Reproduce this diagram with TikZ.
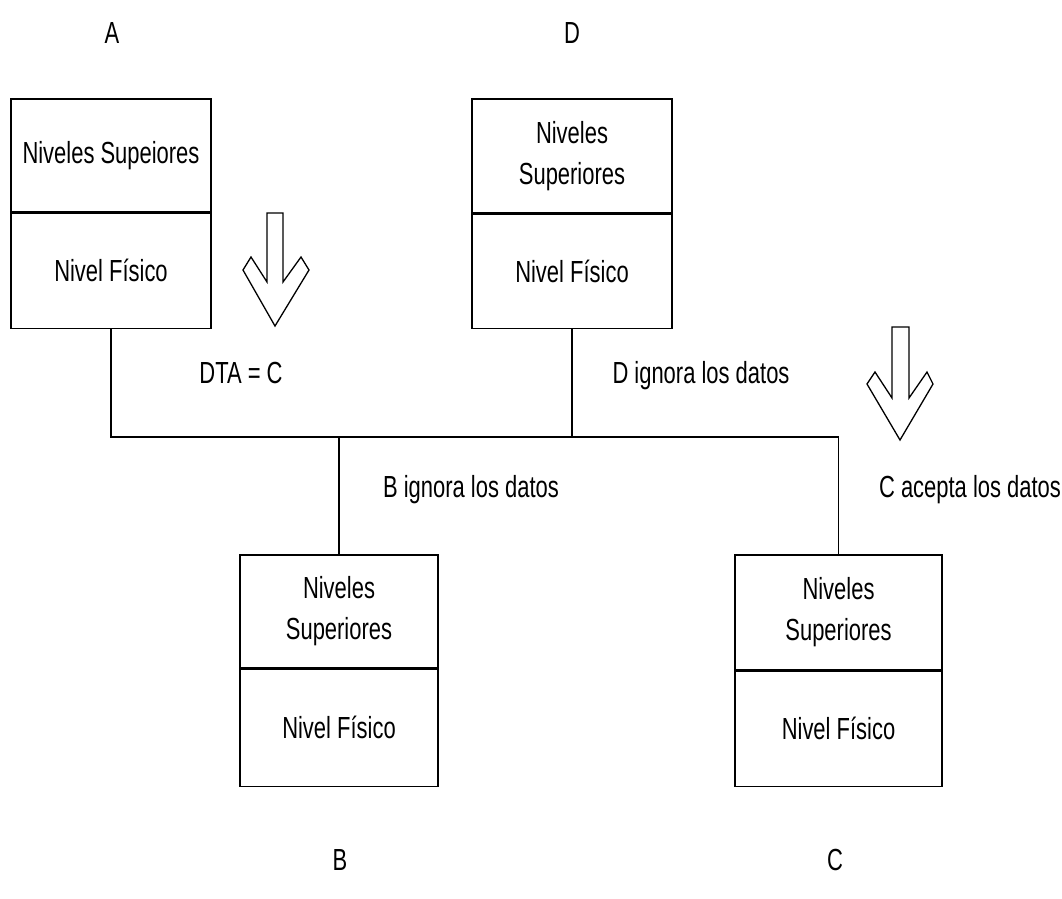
\documentclass[tikz,border=0pt]{standalone}
\usepackage{fontspec}
\setmainfont{Liberation Sans}[FakeStretch=0.72]
\begin{document}
\begin{tikzpicture}[x=1pt,y=-1pt,
  every node/.style={font=\fontsize{30.5}{41}\selectfont, inner sep=0pt},
  layer/.style={draw, line width=1.4pt, minimum width=200pt, align=center},
  wire/.style={line width=1.3pt},
  bigarrow/.style={draw, line width=1.3pt, line join=miter},
  lbl/.style={anchor=base}]
\useasboundingbox (0,0) rectangle (1062,898);

% station labels
\node[lbl] (tA) at (112,43) {A};
\node[lbl] (tD) at (572,43) {D};
\node[lbl] (tB) at (340,870) {B};
\node[lbl] (tC) at (835,870) {C};

% station A
\node[layer, minimum height=113pt] (Aup) at (111,155.5) {Niveles Supeiores};
\node[layer, minimum height=115pt, anchor=north] (Alow) at (Aup.south) {Nivel Físico};
% station D
\node[layer, minimum height=114pt] (Dup) at (572,156) {Niveles\\Superiores};
\node[layer, minimum height=114pt, anchor=north] (Dlow) at (Dup.south) {Nivel Físico};
% station B
\node[layer, minimum width=198pt, minimum height=113pt] (Bup) at (339,611.5) {Niveles\\Superiores};
\node[layer, minimum width=198pt, minimum height=117pt, anchor=north] (Blow) at (Bup.south) {Nivel Físico};
% station C
\node[layer, minimum width=207pt, minimum height=115pt] (Cup) at (838.5,612.5) {Niveles\\Superiores};
\node[layer, minimum width=207pt, minimum height=115pt, anchor=north] (Clow) at (Cup.south) {Nivel Físico};

% shared bus
\coordinate (jA) at (Alow.south |- 0,437);
\coordinate (jD) at (Dlow.south |- 0,437);
\coordinate (jB) at (Bup.north |- 0,437);
\coordinate (jC) at (Cup.north |- 0,437);
\draw[wire] (Alow.south) -- (jA) -- (jC) -- (Cup.north);
\draw[wire] (Dlow.south) -- (jD);
\draw[wire] (jB) -- (Bup.north);

% messages
\node[lbl] (m1) at (241,383) {DTA = C};
\node[lbl] (m2) at (701,383) {D ignora los datos};
\node[lbl] (m3) at (471,497) {B ignora los datos};
\node[lbl] (m4) at (970,497) {C acepta los datos};

% hollow arrows
\draw[bigarrow] (267,213) -- (283,213) -- (283,282) -- (301,257) -- (309,270)
  -- (275,326) -- (243,270) -- (251,257) -- (267,282) -- cycle;
\draw[bigarrow] (892,327) -- (909,327) -- (909,398) -- (927,372) -- (933,384)
  -- (900,440) -- (867,384) -- (875,372) -- (892,398) -- cycle;
\end{tikzpicture}
\end{document}
